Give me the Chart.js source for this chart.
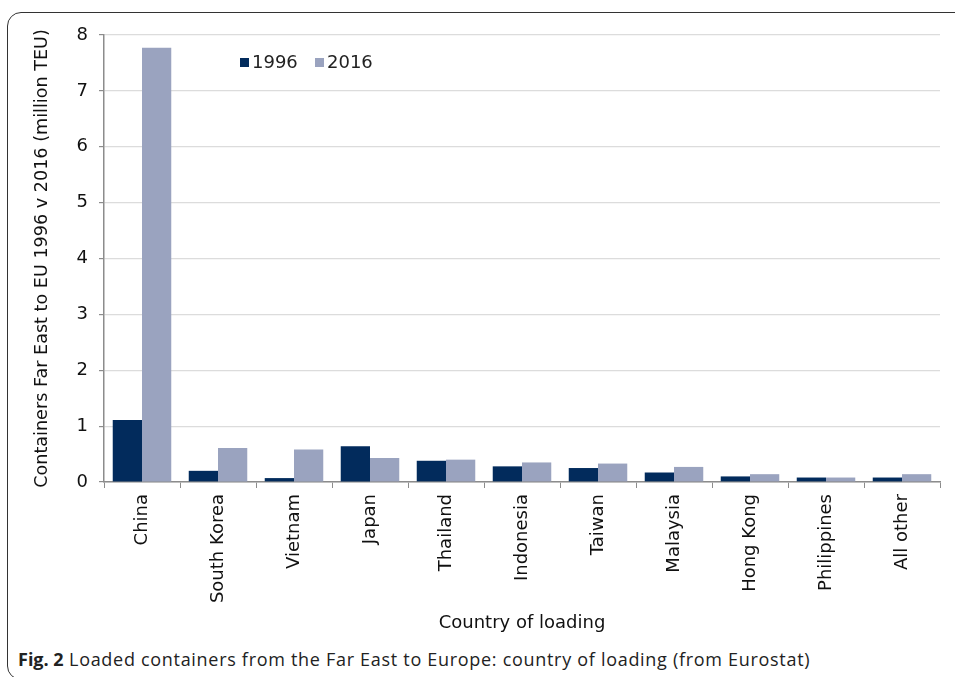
<!DOCTYPE html>
<html>
<head>
<meta charset="utf-8">
<script src="https://cdn.jsdelivr.net/npm/chart.js@4/dist/chart.umd.min.js"></script>
<style>
  html, body { margin: 0; padding: 0; background: #fff; }
  body { width: 955px; height: 677px; position: relative; overflow: hidden; }
  .frame {
    position: absolute; left: 7px; top: 12px; width: 970px; height: 668px;
    border: 1.5px solid #333; border-radius: 14px; box-sizing: border-box;
  }
  .wrap { position: absolute; left: 0; top: 0; width: 955px; height: 642px; }
  .caption {
    position: absolute; left: 18px; top: 647px;
    font-family: "Open Sans", sans-serif; font-size: 18px; color: #222;
    letter-spacing: 0.7px; white-space: nowrap;
  }
  .caption b { font-weight: 700; letter-spacing: 0; }
</style>
</head>
<body>
<div class="frame"></div>
<div class="wrap"><canvas id="chartTeu"></canvas></div>
<div class="caption"><b>Fig. 2</b> Loaded containers from the Far East to Europe: country of loading (from Eurostat)</div>

<script>
// ── data ─────────────────────────────
const countries = ["China", "South Korea", "Vietnam", "Japan", "Thailand", "Indonesia",
                   "Taiwan", "Malaysia", "Hong Kong", "Philippines", "All other"];
const teu1996   = [1.11, 0.20, 0.07, 0.64, 0.38, 0.28, 0.25, 0.17, 0.10, 0.08, 0.08];
const teu2016   = [7.77, 0.61, 0.58, 0.43, 0.40, 0.35, 0.33, 0.27, 0.14, 0.08, 0.14];
const seriesNames = ["1996", "2016"];
const yTicks    = [0, 1, 2, 3, 4, 5, 6, 7, 8];

const FONT  = "'DejaVu Sans', Verdana, sans-serif";
const NAVY  = "#022b5c";
const LIGHT = "#9aa3bf";
const AXIS  = "#8c8c8c";

// legend drawn inside the plot, like the original
const innerLegend = {
  id: "innerLegend",
  afterDraw(chart) {
    const { ctx } = chart;
    const slots = [240, 315];
    const cy = 62;
    ctx.save();
    ctx.font = "18px " + FONT;
    ctx.textBaseline = "middle";
    chart.data.datasets.forEach((ds, i) => {
      const x = slots[i];
      ctx.fillStyle = ds.backgroundColor;
      ctx.fillRect(x, cy - 4, 9, 9);
      ctx.fillStyle = "#222";
      ctx.fillText(ds.label, x + 12, cy + 1);
    });
    ctx.restore();
  }
};

new Chart(document.getElementById("chartTeu"), {
  type: "bar",
  data: {
    labels: countries,
    datasets: [
      { label: seriesNames[0], data: teu1996, backgroundColor: NAVY },
      { label: seriesNames[1], data: teu2016, backgroundColor: LIGHT }
    ]
  },
  options: {
    responsive: true,
    maintainAspectRatio: false,
    animation: false,
    devicePixelRatio: 1,
    layout: { padding: { top: 35, right: 15, left: 0, bottom: 0 } },
    datasets: { bar: { categoryPercentage: 0.77, barPercentage: 1.0, borderWidth: 0 } },
    plugins: { legend: { display: false }, tooltip: { enabled: false } },
    scales: {
      x: {
        afterFit: s => { s.height = 160; },
        grid: { offset: true, drawOnChartArea: false, drawTicks: true, tickLength: 6, color: AXIS },
        border: { color: AXIS, width: 1.5 },
        ticks: { minRotation: 90, maxRotation: 90, padding: 6, color: "#111",
                  font: { family: FONT, size: 18 } },
        title: { display: true, text: "Country of loading", color: "#111",
                 font: { family: FONT, size: 18 }, padding: { bottom: 8 } }
      },
      y: {
        min: 0, max: 8,
        afterFit: s => { s.width = 104; },
        afterBuildTicks: s => { s.ticks = yTicks.map(v => ({ value: v })); },
        grid: { color: "#dcdcdc", lineWidth: 1.2, tickLength: 5, tickColor: AXIS },
        border: { color: AXIS, width: 1.5 },
        ticks: { padding: 11, color: "#111", font: { family: FONT, size: 18 } },
        title: { display: true, text: "Containers Far East to EU 1996 v 2016 (million TEU)",
                 color: "#111", font: { family: FONT, size: 17.6 }, padding: { top: 32 } }
      }
    }
  },
  plugins: [innerLegend]
});
</script>
</body>
</html>
